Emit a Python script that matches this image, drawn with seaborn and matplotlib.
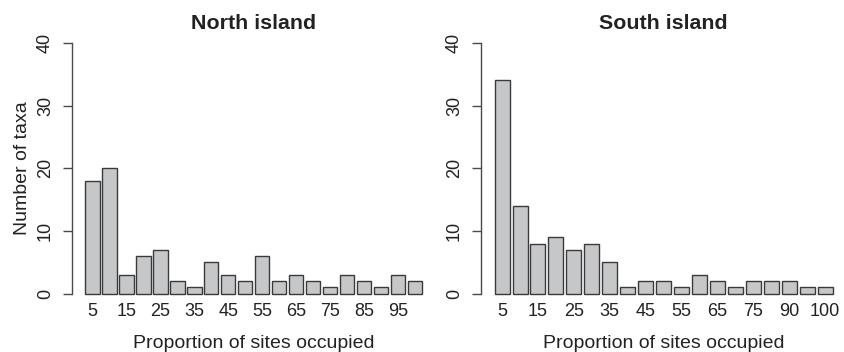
import matplotlib
matplotlib.use("Agg")
import matplotlib.pyplot as plt
import seaborn as sns
import pandas as pd

# Occupancy classes (% of sites) and number of taxa per class
north_classes = ["5", "10", "15", "20", "25", "30", "35", "40", "45", "50",
                 "55", "60", "65", "70", "75", "80", "85", "90", "95", "100"]
north_counts = [18, 20, 3, 6, 7, 2, 1, 5, 3, 2,
                6, 2, 3, 2, 1, 3, 2, 1, 3, 2]

south_classes = ["5", "10", "15", "20", "25", "30", "35", "40", "45", "50",
                 "55", "60", "65", "70", "75", "80", "90", "95", "100"]
south_counts = [34, 14, 8, 9, 7, 8, 5, 1, 2, 2,
                1, 3, 2, 1, 2, 2, 2, 1, 1]

y_ticks = [0, 10, 20, 30, 40]

sns.set_theme(style="white")
plt.rcParams["font.family"] = ["Liberation Sans", "DejaVu Sans"]

FS_TICK = 13.0
FS_LAB = 14.0
FS_TITLE = 15.4
FILL = "#c6c7c9"
EDGE = "#3a3a3a"
AXIS = "#4a4a4a"
TEXT = "#222222"

fig = plt.figure(figsize=(8.44, 3.52), dpi=100)
ax_n = fig.add_axes([0.0853, 0.137, 0.431, 0.770])
ax_s = fig.add_axes([0.570, 0.137, 0.4325, 0.770])


def panel(ax, classes, counts, title, xlim, ylabel=None):
    df = pd.DataFrame({"cls": classes, "n": counts})
    sns.barplot(data=df, x="cls", y="n", order=classes, color=FILL,
                saturation=1, width=1 / 1.2, edgecolor=EDGE, linewidth=1.0,
                ax=ax)
    ax.set_xlim(*xlim)
    ax.set_ylim(-1.6, 41.6)
    for s in ("top", "right", "bottom"):
        ax.spines[s].set_visible(False)
    ax.spines["left"].set_bounds(0, 40)
    ax.spines["left"].set_color(AXIS)
    ax.spines["left"].set_linewidth(1.0)

    ax.set_yticks(y_ticks)
    ax.set_yticklabels([str(v) for v in y_ticks])
    ax.tick_params(axis="y", length=6.5, width=1.0, color=AXIS, pad=6.5,
                   labelsize=FS_TICK, labelcolor=TEXT, left=True)
    for lab in ax.get_yticklabels():
        lab.set_rotation(90)
        lab.set_va("center")
        lab.set_ha("right")

    pos = list(range(0, len(classes), 2))
    ax.set_xticks(pos)
    ax.set_xticklabels([classes[i] for i in pos])
    ax.tick_params(axis="x", length=0, pad=-0.5, labelsize=FS_TICK,
                   labelcolor=TEXT)

    ax.set_xlabel("Proportion of sites occupied", fontsize=FS_LAB, color=TEXT,
                  va="baseline")
    ax.xaxis.set_label_coords(0.5, -0.163)
    ax.set_ylabel(ylabel if ylabel else "", fontsize=FS_LAB, color=TEXT)
    ax.yaxis.set_label_coords(-0.113, 0.5)
    ax.set_title(title, fontsize=FS_TITLE, fontweight="bold", color=TEXT,
                 pad=2.7)
    ax.grid(False)


panel(ax_n, north_classes, north_counts, "North island", (-1.21, 20.21),
      ylabel="Number of taxa")
panel(ax_s, south_classes, south_counts, "South island", (-1.17, 19.17))

fig.savefig("out.png", dpi=100)
